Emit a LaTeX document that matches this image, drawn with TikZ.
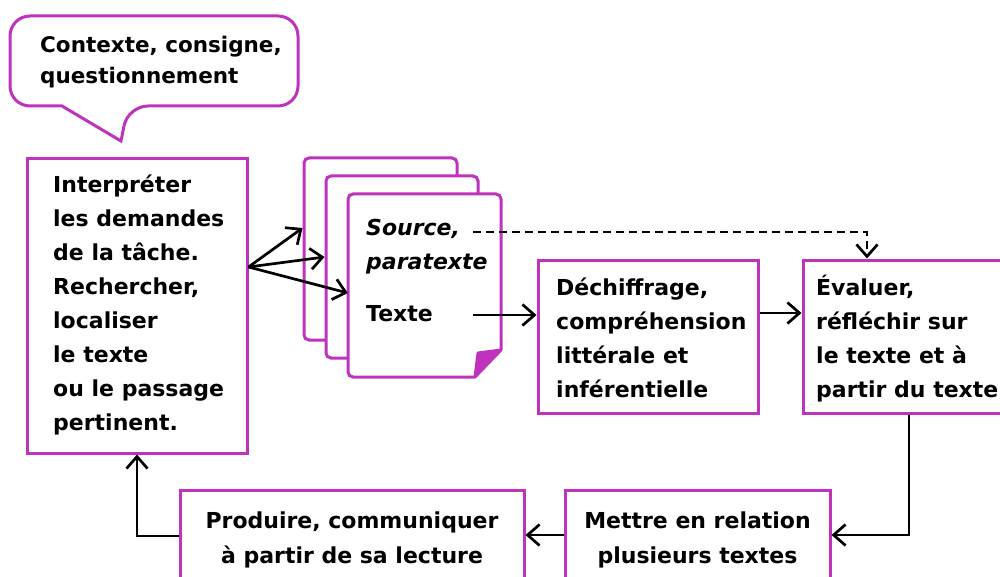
\documentclass[tikz,border=0pt]{standalone}
\usepackage{fontspec}
\setmainfont{DejaVu Sans}
\usetikzlibrary{arrows.meta}
\definecolor{mag}{RGB}{190,50,190}
\begin{document}
\begin{tikzpicture}[x=1pt,y=-1pt,
  boxst/.style={draw=mag, line width=3pt, fill=white, rectangle, inner sep=0pt},
  pagest/.style={draw=mag, line width=3pt, fill=white, rectangle, rounded corners=5pt, inner sep=0pt},
  txt/.style={inner sep=0pt, align=left, font=\fontsize{22}{34}\selectfont\bfseries},
  ctxt/.style={inner sep=0pt, align=center, font=\fontsize{22}{35}\selectfont\bfseries},
  arr/.style={draw=black, line width=2.7pt, -{Straight Barb[length=12pt,width=21pt]}},
  dashst/.style={dash pattern=on 8pt off 5pt}
]
\fill[white] (0,0) rectangle (1000,577);
\useasboundingbox (0,0) rectangle (1000,577);

% speech bubble
\draw[draw=mag, line width=3pt, fill=white, line join=miter]
  [rounded corners=20pt] (62,106) -- (10,106) -- (10,16) -- (298,16) -- (298,106) -- (128,106)
  [sharp corners] -- (121,141) -- cycle;
\node[txt, font=\fontsize{21.5}{31}\selectfont\bfseries, anchor=west] (bubble) at (40,62) {Contexte, consigne,\\questionnement};

% box 1
\node[boxst, minimum width=220pt, minimum height=294pt] (b1) at (137,306) {};
\node[txt, anchor=west] (b1t) at (53,305) {Interpréter\\les demandes\\de la tâche.\\Rechercher,\\localiser\\le texte\\ou le passage\\pertinent.};

% pages
\node[pagest, minimum width=153pt, minimum height=182pt] (pA) at (380.5,249) {};
\node[pagest, minimum width=152pt, minimum height=182pt] (pB) at (402,267) {};
\node[inner sep=0pt, minimum width=153pt, minimum height=183pt] (pC) at (424.5,285.5) {};
\fill[white] (348,377) -- (348,194) -- (501,194) -- (501,350) -- (475,377) -- cycle;
\draw[draw=mag, line width=3pt, rounded corners=5pt] (475,377) -- (348,377) -- (348,194) -- (501,194) -- (501,350);
\filldraw[draw=mag, fill=mag, line width=3pt, line join=round] (501,350) -- (475,377) -- (478,353) -- cycle;
\node[txt, font=\fontsize{22}{34}\selectfont\bfseries\itshape, anchor=west] (src) at (366,247) {Source,\\paratexte};
\node[txt, anchor=west] (texte) at (366,314) {Texte};
\coordinate (srcout) at (473,232);
\coordinate (texteout) at (473,315);

% other boxes
\node[boxst, minimum width=220pt, minimum height=153pt] (dech) at (648,336.5) {};
\node[txt, anchor=west] (decht) at (556,338) {Déchiffrage,\\compréhension\\littérale et\\inférentielle};
\node[boxst, minimum width=198pt, minimum height=153pt] (eval) at (902,336.5) {};
\node[txt, anchor=west] (evalt) at (816,339) {Évaluer,\\réfléchir sur\\le texte et à\\partir du texte};
\node[boxst, minimum width=265pt, minimum height=110pt] (mettre) at (697.5,545) {};
\node[ctxt] (mettret) at (697.5,540) {Mettre en relation\\plusieurs textes};
\node[boxst, minimum width=344pt, minimum height=110pt] (prod) at (352,545) {};
\node[ctxt] (prodt) at (352,540) {Produire, communiquer\\à partir de sa lecture};

% connectors
\draw[arr] (b1.east |- 0,267) -- (pA.west |- 0,228);
\draw[arr] (b1.east |- 0,267) -- (pB.west |- 0,257);
\draw[arr] (b1.east |- 0,267) -- (pC.west |- 0,293);
\draw[arr, dashst] (srcout) -| (eval.north -| 867,0);
\draw[arr] (texteout) -- (dech.west |- texteout);
\draw[arr] (dech.east |- 0,313) -- (eval.west |- 0,313);
\draw[arr] (eval.south -| 909,0) |- (mettre.east |- 0,535);
\draw[arr] (mettre.west |- 0,535) -- (prod.east |- 0,535);
\draw[arr] (prod.west |- 0,536) -| (b1.south);
\end{tikzpicture}
\end{document}
